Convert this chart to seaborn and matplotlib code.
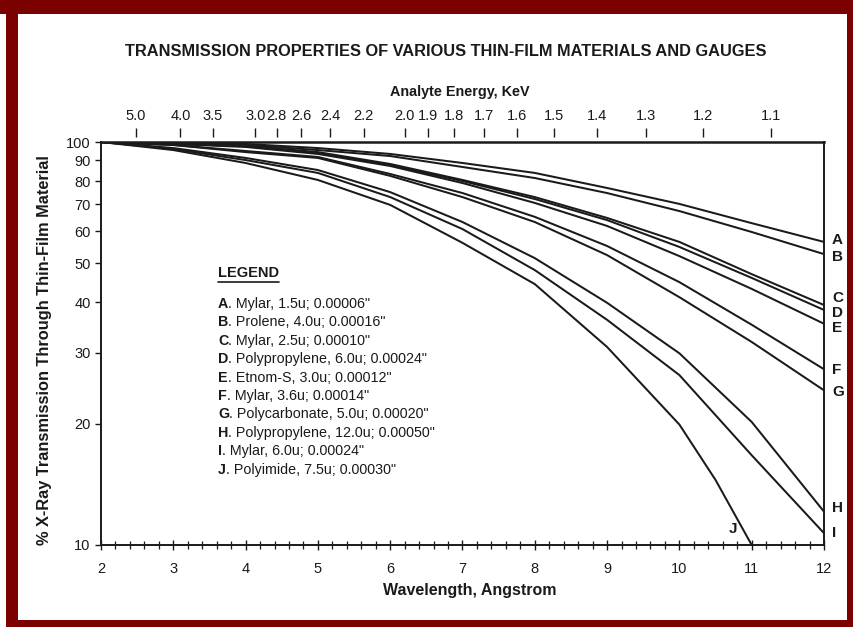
import numpy as np
import pandas as pd
import matplotlib
matplotlib.use("Agg")
import matplotlib.pyplot as plt
import seaborn as sns
from matplotlib.patches import Rectangle
from matplotlib.lines import Line2D
from matplotlib.ticker import FixedLocator, NullLocator, FixedFormatter, NullFormatter, MultipleLocator

# ---------------- data ----------------
wavelength = [2, 3, 4, 5, 6, 7, 8, 9, 10, 11, 12]
wavelength_j = [2, 3, 4, 5, 6, 7, 8, 9, 10, 10.5, 11]

trans_a = [100, 99.4, 98.9, 96.6, 93.4, 88.7, 83.8, 76.9, 70.2, 62.9, 56.5]
trans_b = [100, 99.4, 98.3, 95.5, 92.3, 86.7, 81.4, 74.7, 67.4, 59.8, 52.7]
trans_c = [100, 98.9, 97.7, 94.4, 88.2, 80.5, 73.0, 64.8, 56.5, 47.0, 39.4]
trans_d = [100, 98.9, 97.7, 93.9, 87.7, 80.0, 72.2, 64.0, 54.9, 46.0, 38.3]
trans_e = [100, 98.9, 97.2, 93.4, 87.2, 79.1, 70.6, 61.9, 52.1, 43.2, 35.4]
trans_f = [100, 98.3, 95.0, 91.8, 83.3, 74.7, 65.2, 55.2, 44.9, 35.2, 27.3]
trans_g = [100, 98.3, 94.4, 91.3, 82.4, 73.0, 63.3, 52.4, 41.2, 31.9, 24.2]
trans_h = [100, 96.6, 91.3, 85.2, 75.1, 63.3, 51.5, 39.9, 29.9, 20.2, 12.1]
trans_i = [100, 96.1, 90.2, 83.8, 73.0, 60.8, 48.1, 36.2, 26.4, 16.7, 10.7]
trans_j = [100, 95.5, 88.7, 80.5, 69.8, 56.2, 44.4, 31.0, 19.9, 14.5, 10.0]

film_letters = ["A", "B", "C", "D", "E", "F", "G", "H", "I", "J"]
film_descriptions = [
    'Mylar, 1.5u; 0.00006"',
    'Prolene, 4.0u; 0.00016"',
    'Mylar, 2.5u; 0.00010"',
    'Polypropylene, 6.0u; 0.00024"',
    'Etnom-S, 3.0u; 0.00012"',
    'Mylar, 3.6u; 0.00014"',
    'Polycarbonate, 5.0u; 0.00020"',
    'Polypropylene, 12.0u; 0.00050"',
    'Mylar, 6.0u; 0.00024"',
    'Polyimide, 7.5u; 0.00030"',
]

energy_ticks = [5.0, 4.0, 3.5, 3.0, 2.8, 2.6, 2.4, 2.2, 2.0, 1.9, 1.8, 1.7,
                1.6, 1.5, 1.4, 1.3, 1.2, 1.1]
energy_labels = ["5.0", "4.0", "3.5", "3.0", "2.8", "2.6", "2.4", "2.2", "2.0",
                 "1.9", "1.8", "1.7", "1.6", "1.5", "1.4", "1.3", "1.2", "1.1"]
y_ticks = [10, 20, 30, 40, 50, 60, 70, 80, 90, 100]
y_labels = ["10", "20", "30", "40", "50", "60", "70", "80", "90", "100"]
x_ticks = [2, 3, 4, 5, 6, 7, 8, 9, 10, 11, 12]

title = "TRANSMISSION PROPERTIES OF VARIOUS THIN-FILM MATERIALS AND GAUGES"
top_label = "Analyte Energy, KeV"
x_label = "Wavelength, Angstrom"
y_label = "% X-Ray Transmission Through Thin-Film Material"

# ---------------- build long table ----------------
series = [trans_a, trans_b, trans_c, trans_d, trans_e,
          trans_f, trans_g, trans_h, trans_i, trans_j]
frames = []
for letter, vals in zip(film_letters, series):
    xs = wavelength_j if letter == "J" else wavelength
    frames.append(pd.DataFrame({"wavelength": xs, "transmission": vals, "film": letter}))
df = pd.concat(frames, ignore_index=True)

# ---------------- style ----------------
sns.set_style("white")
plt.rcParams["font.family"] = ["Liberation Sans", "DejaVu Sans"]
INK = "#1a1a1a"
FRAME_RED = "#7b0000"

W, H = 854, 627
fig = plt.figure(figsize=(W / 100, H / 100), dpi=100)
fig.patch.set_facecolor(FRAME_RED)
# thin white strip at far left, below the top band
fig.add_artist(Rectangle((0, 0), 6 / W, 1 - 14 / H, transform=fig.transFigure,
                         facecolor="white", edgecolor="none", zorder=-5))
# inner white page
fig.add_artist(Rectangle((18 / W, 1 - 620 / H), (847 - 18) / W, (620 - 14) / H,
                         transform=fig.transFigure, facecolor="white",
                         edgecolor="none", zorder=-5))

ax_l, ax_r, ax_t, ax_b = 101, 824, 142, 545
ax = fig.add_axes([ax_l / W, 1 - ax_b / H, (ax_r - ax_l) / W, (ax_b - ax_t) / H])
ax.set_facecolor("white")

sns.lineplot(data=df, x="wavelength", y="transmission", units="film",
             estimator=None, color=INK, linewidth=1.45, ax=ax, legend=False,
             sort=False)

ax.set_yscale("log")
ax.set_xlim(2, 12)
ax.set_ylim(10, 100)

ax.yaxis.set_major_locator(FixedLocator(y_ticks))
ax.yaxis.set_major_formatter(FixedFormatter(y_labels))
ax.yaxis.set_minor_locator(NullLocator())
ax.yaxis.set_minor_formatter(NullFormatter())
ax.xaxis.set_major_locator(FixedLocator(x_ticks))
ax.xaxis.set_minor_locator(MultipleLocator(0.2))

ax.tick_params(axis="y", which="major", direction="out", length=4.5, width=1.0,
               labelsize=10.5, pad=3, color=INK, labelcolor=INK, left=True, right=False)
ax.tick_params(axis="x", which="major", direction="inout", length=7, width=1.0,
               labelsize=10.5, pad=9, color=INK, labelcolor=INK, bottom=True, top=False)
ax.tick_params(axis="x", which="minor", direction="inout", length=6, width=0.9,
               color=INK, bottom=True, top=False)

for side in ["left", "right", "top", "bottom"]:
    ax.spines[side].set_visible(True)
    ax.spines[side].set_color(INK)
    ax.spines[side].set_linewidth(1.4)
ax.spines["top"].set_linewidth(1.8)

ax.set_xlabel(x_label, fontsize=11.5, fontweight="bold", color=INK)
ax.xaxis.set_label_coords((470 - ax_l) / (ax_r - ax_l), -(590 - ax_b) / (ax_b - ax_t))
ax.xaxis.label.set_va("center")
ax.set_ylabel(y_label, fontsize=11.8, fontweight="bold", color=INK)
ax.yaxis.set_label_coords(-(ax_l - 45) / (ax_r - ax_l), (ax_b - 350) / (ax_b - ax_t))
ax.yaxis.label.set_va("center")
ax.grid(False)

# ---------------- top energy axis ----------------
def wl_to_kev(x):
    x = np.asarray(x, dtype=float)
    with np.errstate(divide="ignore", invalid="ignore"):
        return 12.398 / x

secax = ax.secondary_xaxis(1.012, functions=(wl_to_kev, wl_to_kev))
secax.xaxis.set_major_locator(FixedLocator(energy_ticks))
secax.xaxis.set_major_formatter(FixedFormatter(energy_labels))
secax.xaxis.set_minor_locator(NullLocator())
secax.tick_params(axis="x", direction="out", length=6.5, width=1.0, labelsize=10.5,
                  pad=4, color=INK, labelcolor=INK)
for s in secax.spines.values():
    s.set_visible(False)

# ---------------- titles ----------------
fig.text(446 / W, 1 - 52 / H, title, ha="center", va="center", fontsize=11.8,
         fontweight="bold", color=INK)
fig.text(460 / W, 1 - 92 / H, top_label, ha="center", va="center", fontsize=10.4,
         fontweight="bold", color=INK)

# ---------------- end labels (layout positions) ----------------
label_y = [57.1, 51.8, 41.0, 37.6, 34.6, 27.2, 24.0, 12.35, 10.7]
for letter, yv in zip(film_letters[:9], label_y):
    ax.text(1.011, yv, letter, transform=ax.get_yaxis_transform(),
            ha="left", va="center", fontsize=11, fontweight="bold", color=INK,
            clip_on=False)
ax.text(10.74, 10.95, "J", ha="center", va="center", fontsize=11,
        fontweight="bold", color=INK)

# ---------------- legend block ----------------
leg_x = (218 - ax_l) / (ax_r - ax_l)
leg_title = ax.text(leg_x, (ax_b - 273) / (ax_b - ax_t), "LEGEND", transform=ax.transAxes,
                    ha="left", va="center", fontsize=10.5, fontweight="bold", color=INK)
y0 = (ax_b - 308) / (ax_b - ax_t)
dy = 18.4 / (ax_b - ax_t)
for k, (letter, desc) in enumerate(zip(film_letters, film_descriptions)):
    t = ax.text(leg_x, y0 - k * dy, letter, transform=ax.transAxes,
                ha="left", va="baseline", fontsize=10.3, fontweight="bold", color=INK)
    ax.annotate(". " + desc, xy=(1, 0), xycoords=t, ha="left", va="bottom",
                fontsize=10.3, color=INK)

fig.canvas.draw()
bb = leg_title.get_window_extent()
inv = fig.transFigure.inverted()
(x0f, y0f), (x1f, _) = inv.transform([(bb.x0, bb.y0 - 1.5), (bb.x1, bb.y0 - 1.5)])
fig.add_artist(Line2D([x0f, x1f], [y0f, y0f], transform=fig.transFigure,
                      color=INK, linewidth=1.2))

fig.savefig("out.png", dpi=100, facecolor=fig.get_facecolor())
